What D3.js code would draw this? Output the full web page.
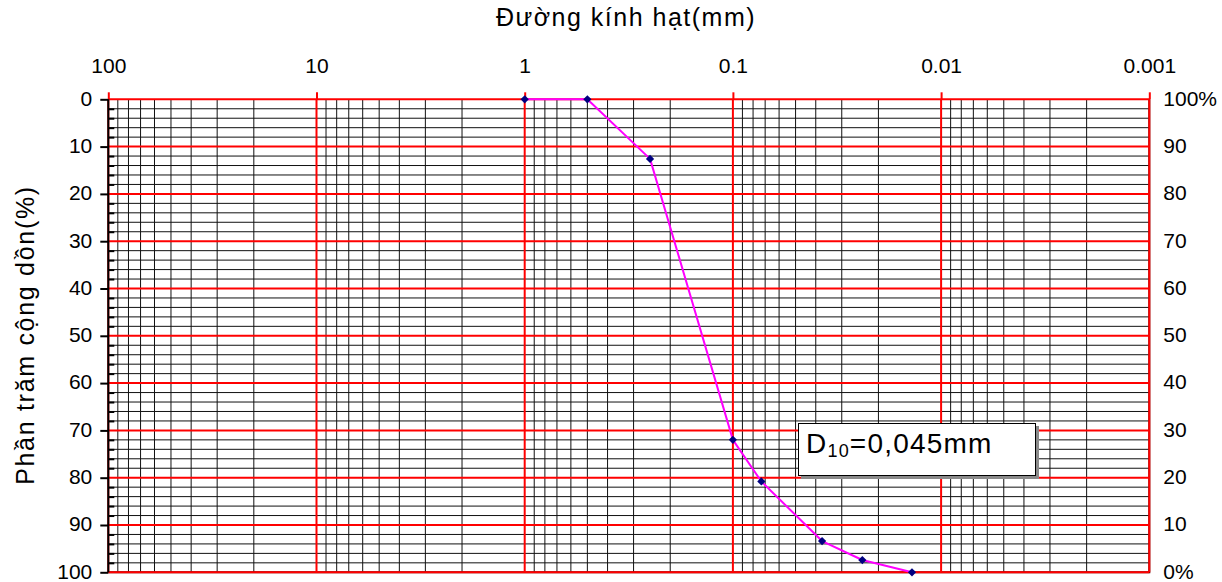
<!DOCTYPE html>
<html>
<head>
<meta charset="utf-8">
<script src="https://cdn.jsdelivr.net/npm/d3@7"></script>
<style>
  body { margin: 0; background: #fff; }
  svg text { font-family: "Liberation Sans", Arial, sans-serif; fill: #000; }
</style>
</head>
<body>
<svg id="chart" width="1222" height="582"></svg>
<script>
// grain size (mm) and cumulative percent
const diameters   = [1, 0.5, 0.25, 0.1, 0.073, 0.0373, 0.0239, 0.0138];
const cumPercent  = [0, 0, 12.6, 72, 80.8, 93.4, 97.4, 100];

const xTickValues = [100, 10, 1, 0.1, 0.01, 0.001];
const xTickLabels = ['100', '10', '1', '0.1', '0.01', '0.001'];
const yTickValues = [0, 10, 20, 30, 40, 50, 60, 70, 80, 90, 100];
const rightLabels = ['100%', '90', '80', '70', '60', '50', '40', '30', '20', '10', '0%'];

const xTitle = 'Đường kính hạt(mm)';
const yTitle = 'Phần trăm cộng dồn(%)';
const note   = ['D', '10', '=0,045mm'];

const P = {l: 108.3, r: 1149.3, t: 99.3, b: 572.3};

const svg = d3.select('#chart');

const x = d3.scaleLog().domain([100, 0.001]).range([P.l, P.r]);
const y = d3.scaleLinear().domain([0, 100]).range([P.t, P.b]);

const isMajorX = v => xTickValues.some(t => Math.abs(Math.log10(t) - Math.log10(v)) < 1e-6);
const xMinor = x.ticks().filter(v => !isMajorX(v));
const yMinor = y.ticks(50).filter(v => v % 10 !== 0);

// minor grid (black)
const minor = svg.append('g').attr('stroke', '#111').attr('stroke-width', 1);
minor.selectAll('.vx').data(xMinor).join('line')
  .attr('x1', d => x(d)).attr('x2', d => x(d))
  .attr('y1', P.t).attr('y2', P.b);
minor.selectAll('.hy').data(yMinor).join('line')
  .attr('x1', P.l).attr('x2', P.r)
  .attr('y1', d => y(d)).attr('y2', d => y(d));

// plot border right / bottom
svg.append('path')
  .attr('d', `M${P.r},${P.t}V${P.b}H${P.l}`)
  .attr('fill', 'none').attr('stroke', '#400').attr('stroke-width', 2);

// major grid (red)
const major = svg.append('g').attr('stroke', '#ff0000').attr('stroke-width', 2);
major.selectAll('.vx').data(xTickValues).join('line')
  .attr('x1', d => x(d)).attr('x2', d => x(d))
  .attr('y1', P.t).attr('y2', P.b);
major.selectAll('.hy').data(yTickValues).join('line')
  .attr('x1', P.l).attr('x2', P.r)
  .attr('y1', d => y(d)).attr('y2', d => y(d));

// top axis: red ticks poking up, labels
const topAxis = svg.append('g')
  .attr('transform', `translate(0,${P.t})`)
  .call(d3.axisTop(x).tickValues(xTickValues).tickSize(7).tickPadding(19)
    .tickFormat((d, i) => xTickLabels[i]));
topAxis.select('.domain').remove();
topAxis.selectAll('.tick line').attr('stroke', '#ff0000').attr('stroke-width', 2);
topAxis.selectAll('.tick text').attr('font-size', 21).attr('fill', '#000');

// left axis
const leftAxis = svg.append('g')
  .attr('transform', `translate(${P.l},0)`)
  .call(d3.axisLeft(y).tickValues(yTickValues).tickSize(8).tickPadding(8));
leftAxis.select('.domain').attr('stroke', '#000').attr('stroke-width', 2)
  .attr('d', `M0,${P.t}V${P.b}`);
leftAxis.selectAll('.tick line').attr('stroke', '#000').attr('stroke-width', 2);
leftAxis.selectAll('.tick text').attr('font-size', 21).attr('fill', '#000').attr('dy', '0.28em');

// left minor ticks pointing in
const leftMinor = svg.append('g')
  .attr('transform', `translate(${P.l},0)`)
  .call(d3.axisRight(y).tickValues(yMinor).tickSize(6).tickFormat(''));
leftMinor.select('.domain').remove();
leftMinor.selectAll('.tick line').attr('stroke', '#000').attr('stroke-width', 2);

// right axis labels
const rightAxis = svg.append('g')
  .attr('transform', `translate(${P.r},0)`)
  .call(d3.axisRight(y).tickValues(yTickValues).tickSize(0).tickPadding(14)
    .tickFormat((d, i) => rightLabels[i]));
rightAxis.select('.domain').remove();
rightAxis.selectAll('.tick text').attr('font-size', 21).attr('fill', '#000').attr('dy', '0.28em');

// curve
const pts = diameters.map((d, i) => [d, cumPercent[i]]);
svg.append('path')
  .datum(pts)
  .attr('fill', 'none')
  .attr('stroke', '#ff00ff')
  .attr('stroke-width', 2)
  .attr('stroke-linejoin', 'round')
  .attr('d', d3.line().x(d => x(d[0])).y(d => y(d[1])));

svg.append('g').selectAll('path').data(pts).join('path')
  .attr('transform', d => `translate(${x(d[0])},${y(d[1])}) rotate(45)`)
  .attr('d', d3.symbol(d3.symbolSquare, 34))
  .attr('fill', '#000080');

// titles
svg.append('text')
  .attr('x', 626).attr('y', 26)
  .attr('text-anchor', 'middle')
  .attr('font-size', 25)
  .attr('letter-spacing', 1.5)
  .text(xTitle);

svg.append('text')
  .attr('transform', 'translate(34,335) rotate(-90)')
  .attr('text-anchor', 'middle')
  .attr('font-size', 25)
  .attr('letter-spacing', 1.7)
  .text(yTitle);

// D10 note box
const box = svg.append('g');
box.append('rect')
  .attr('x', 801).attr('y', 426).attr('width', 238).attr('height', 53)
  .attr('fill', '#8a8a8a');
box.append('rect')
  .attr('x', 798.5).attr('y', 423.5).attr('width', 237).attr('height', 52)
  .attr('fill', '#fff').attr('stroke', '#000').attr('stroke-width', 1);
const nt = box.append('text').attr('x', 806).attr('y', 453).attr('font-size', 28)
  .attr('letter-spacing', 1.2);
nt.append('tspan').text(note[0]);
nt.append('tspan').attr('font-size', 18).attr('dy', 4).text(note[1]);
nt.append('tspan').attr('dy', -4).text(note[2]);
</script>
</body>
</html>
